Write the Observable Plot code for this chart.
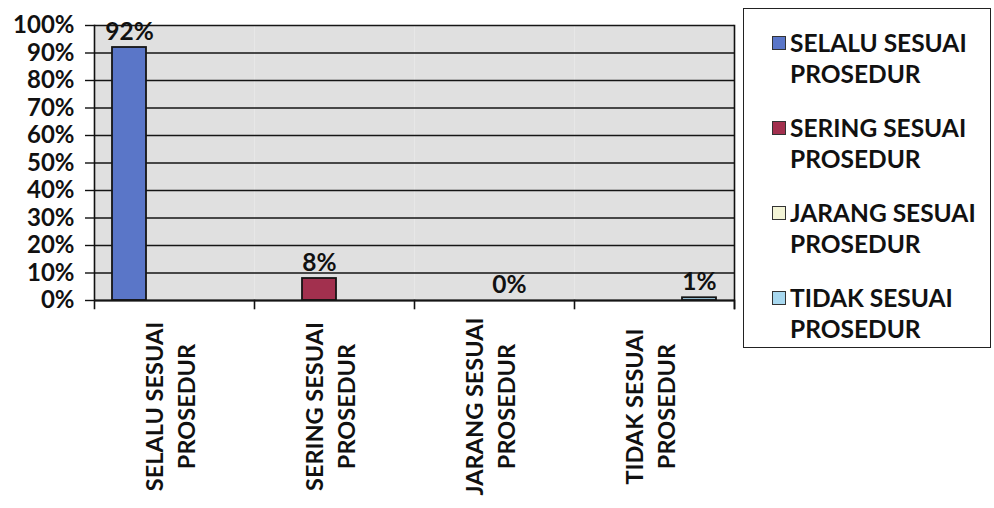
<!DOCTYPE html>
<html>
<head>
<meta charset="utf-8">
<script src="https://cdn.jsdelivr.net/npm/d3@7"></script>
<script src="https://cdn.jsdelivr.net/npm/@observablehq/plot@0.6"></script>
<style>
  html, body { margin: 0; padding: 0; background: #fff; }
  #wrap { position: relative; width: 994px; height: 508px; font-family: Lato, "Open Sans", sans-serif; }
  #chart { position: absolute; left: 0; top: 0; }
  #legend { position: absolute; left: 743px; top: 8px; width: 248px; height: 340px; border: 1.5px solid #222; box-sizing: border-box; padding: 18px 0 0 28px; }
  .item { display: flex; align-items: flex-start; margin-bottom: 23px; }
  .sw { width: 12px; height: 12px; border: 1.5px solid #333; margin-top: 9px; margin-right: 4px; flex: none; }
  .lab { font-weight: 700; font-size: 24.5px; line-height: 31px; color: #111; white-space: nowrap; }
</style>
</head>
<body>
<div id="wrap">
  <div id="chart"></div>
  <div id="legend"></div>
</div>
<script>
const categories = ["SELALU SESUAI PROSEDUR", "SERING SESUAI PROSEDUR", "JARANG SESUAI PROSEDUR", "TIDAK SESUAI PROSEDUR"];
const tickLabels = ["SELALU SESUAI\nPROSEDUR", "SERING SESUAI\nPROSEDUR", "JARANG SESUAI\nPROSEDUR", "TIDAK SESUAI\nPROSEDUR"];
const values = [0.92, 0.08, 0.00, 0.01];
const colors = ["#5a76c8", "#a2304e", "#f3f4d6", "#a8d8ef"];
const yTicks = [0, 0.1, 0.2, 0.3, 0.4, 0.5, 0.6, 0.7, 0.8, 0.9, 1.0];

const data = categories.map((c, i) => ({category: c, series: c, value: values[i]}));
const labelData = categories.map((c, i) => ({category: c, label: tickLabels[i]}));
const pct = d3.format(".0%");

const chart = Plot.plot({
  width: 742,
  height: 508,
  marginLeft: 92,
  marginRight: 7,
  marginTop: 25,
  marginBottom: 208,
  style: {fontFamily: "Lato, 'Open Sans', sans-serif", color: "#111", overflow: "visible"},
  fx: {domain: categories, padding: 0, axis: null},
  x: {domain: categories, paddingInner: 0, paddingOuter: 0.6, axis: null},
  y: {domain: [0, 1], axis: null},
  color: {domain: categories, range: colors},
  marks: [
    Plot.frame({fill: "#e0e0e0", stroke: "none"}),
    Plot.gridY(yTicks, {stroke: "#151515", strokeOpacity: 1, strokeWidth: 1.4}),
    Plot.barY(data, {fx: "category", x: "series", y: "value", fill: "series", stroke: "#151515", strokeWidth: 1.8, insetLeft: -2, insetRight: -2}),
    Plot.text(data, {fx: "category", x: "series", y: "value", text: d => pct(d.value), lineAnchor: "bottom", dy: -8, fontSize: 24.5, fontWeight: "bold", fill: "#111"}),
    Plot.axisY(yTicks, {anchor: "left", label: null, tickFormat: pct, tickSize: 9, tickPadding: 11, fontSize: 24, fontWeight: "bold", strokeWidth: 1.4}),
    Plot.frame({anchor: "left", facetAnchor: "left", insetBottom: -8, strokeWidth: 1.6}),
    Plot.frame({anchor: "right", facetAnchor: "right", insetBottom: -8, strokeWidth: 1.6}),
    Plot.frame({anchor: "right", insetTop: 275, insetBottom: -8, strokeWidth: 1.6}),
    Plot.ruleY([0], {stroke: "#151515", strokeWidth: 2}),
    Plot.text(labelData, {fx: "category", text: "label", frameAnchor: "bottom", rotate: -90, textAnchor: "middle", lineAnchor: "middle", lineHeight: 1.35, dx: -6, dy: 106, fontSize: 23.5, fontWeight: "bold", fill: "#111"})
  ]
});
document.getElementById("chart").appendChild(chart);

const legend = document.getElementById("legend");
categories.forEach((c, i) => {
  const item = document.createElement("div");
  item.className = "item";
  const sw = document.createElement("div");
  sw.className = "sw";
  sw.style.background = colors[i];
  const lab = document.createElement("div");
  lab.className = "lab";
  lab.innerHTML = tickLabels[i].replace("\n", "<br>");
  item.appendChild(sw);
  item.appendChild(lab);
  legend.appendChild(item);
});
</script>
</body>
</html>
